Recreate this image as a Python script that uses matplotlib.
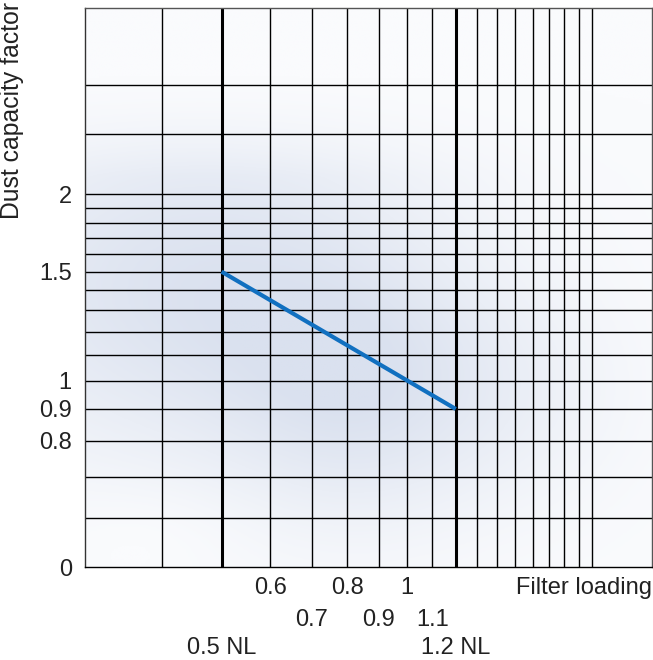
import numpy as np
import matplotlib
matplotlib.use("Agg")
from matplotlib import pyplot as plt
from matplotlib.colors import LinearSegmentedColormap

plt.rcParams['font.family'] = ['Liberation Sans', 'DejaVu Sans']

# data
line_x = [0.5, 1.2]
line_y = [1.5, 0.9]

grid_x = [0.4, 0.5, 0.6, 0.7, 0.8, 0.9, 1.0, 1.1, 1.2, 1.3, 1.4, 1.5, 1.6, 1.7, 1.8, 1.9, 2.0]
grid_y = [0.6, 0.7, 0.8, 0.9, 1.0, 1.1, 1.2, 1.3, 1.4, 1.5, 1.6, 1.7, 1.8, 1.9, 2.0, 2.5, 3.0]
thick_x = [0.5, 1.2]

ytick_vals = [0.5, 0.8, 0.9, 1.0, 1.5, 2.0]
ytick_labels = ['0', '0.8', '0.9', '1', '1.5', '2']

xrow1_vals = [0.6, 0.8, 1.0]
xrow1_labels = ['0.6', '0.8', '1']
xrow2_vals = [0.7, 0.9, 1.1]
xrow2_labels = ['0.7', '0.9', '1.1']
xrow3_vals = [0.5, 1.2]
xrow3_labels = ['0.5 NL', '1.2 NL']

xlim = (0.3, 2.5)
ylim = (0.5, 4.0)

fig = plt.figure(figsize=(6.53, 6.60), dpi=100)
ax = fig.add_axes([85 / 653, 93 / 660, 567 / 653, 559 / 660])
ax.set_xscale('log')
ax.set_yscale('log')
ax.set_xlim(*xlim)
ax.set_ylim(*ylim)

# soft cloudy background
u, v = np.meshgrid(np.linspace(0, 1, 300), np.linspace(0, 1, 300))
shade = 0.9 * np.exp(-((u - 0.2) ** 2 / 0.2 + (v - 0.5) ** 2 / 0.1))
shade += 0.6 * np.exp(-((u - 0.5) ** 2 / 0.06 + (v - 0.3) ** 2 / 0.05))
shade += 0.2 * np.exp(-((u - 0.8) ** 2 / 0.04 + (v - 0.3) ** 2 / 0.04))
shade *= 1 - np.clip((v - 0.7) / 0.18, 0, 1)
shade *= 1 - np.exp(-((u - 0.08) ** 2 / 0.03 + (v - 0.02) ** 2 / 0.01))
shade = np.clip(shade, 0, 1)
cmap = LinearSegmentedColormap.from_list('cloud', ['#fafbfd', '#dae1ef'])
ax.imshow(shade, cmap=cmap, origin='lower', extent=[0, 1, 0, 1],
          transform=ax.transAxes, aspect='auto', zorder=0, interpolation='bilinear')

for gx in grid_x:
    lw = 2.2 if gx in thick_x else 1.0
    ax.axvline(gx, color='black', lw=lw, zorder=1)
for gy in grid_y:
    ax.axhline(gy, color='black', lw=1.0, zorder=1)

ax.plot(line_x, line_y, color='#1170c0', lw=3.0, solid_capstyle='butt', zorder=3)

for s in ax.spines.values():
    s.set_color('#555555')
    s.set_linewidth(1.0)
ax.spines['bottom'].set_color('black')
ax.spines['left'].set_color('#333333')

ax.set_yticks(ytick_vals, labels=ytick_labels)
ax.yaxis.set_minor_locator(matplotlib.ticker.NullLocator())
ax.set_xticks([])
ax.xaxis.set_minor_locator(matplotlib.ticker.NullLocator())
ax.tick_params(axis='y', length=0, pad=9.5, labelsize=17, labelcolor='#222222')

fs = 17
trans = ax.get_xaxis_transform()
for vals, labels, off in [(xrow1_vals, xrow1_labels, -21),
                          (xrow2_vals, xrow2_labels, -53),
                          (xrow3_vals, xrow3_labels, -81)]:
    for xv, lab in zip(vals, labels):
        ax.annotate(lab, (xv, 0), xycoords=trans, xytext=(0, off),
                    textcoords='offset pixels', ha='center', va='center',
                    fontsize=fs, color='#222222')
ax.annotate('Filter loading', (1, 0), xycoords='axes fraction', xytext=(0, -21),
            textcoords='offset pixels', ha='right', va='center', fontsize=fs, color='#222222')

fig.text(12 / 653, 1 - 2 / 660, 'Dust capacity factor', rotation=90, ha='center', va='top',
         fontsize=17.8, color='#222222')

fig.savefig('out.png', dpi=100)
